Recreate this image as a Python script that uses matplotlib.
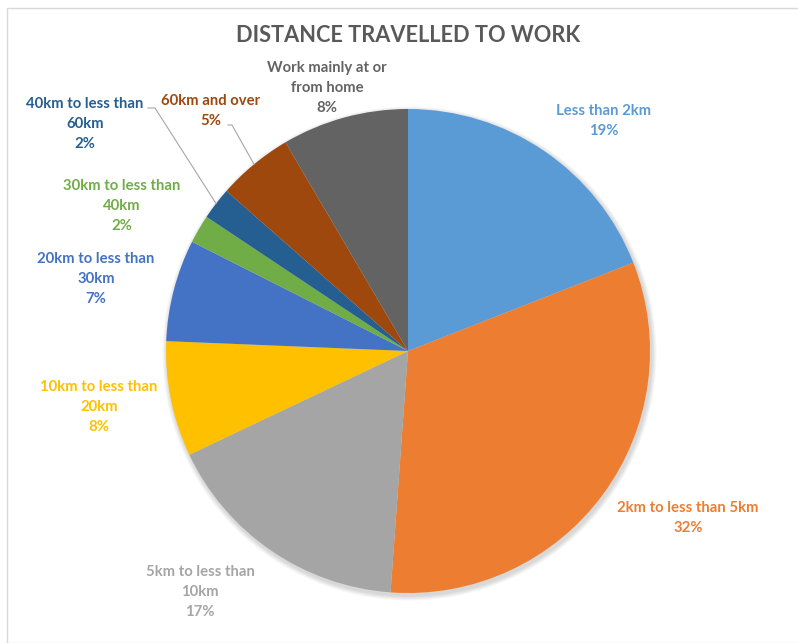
import numpy as np
import matplotlib.pyplot as plt
from matplotlib.patches import Rectangle, Circle

# data (clockwise from 12 o'clock)
categories = ["Less than 2km", "2km to less than 5km", "5km to less than\n10km",
              "10km to less than\n20km", "20km to less than\n30km", "30km to less than\n40km",
              "40km to less than\n60km", "60km and over", "Work mainly at or\nfrom home"]
shares = [19.05, 32.1, 16.8, 7.7, 6.8, 1.9, 2.15, 5.05, 8.45]
colors = ["#5B9BD5", "#ED7D31", "#A5A5A5", "#FFC000", "#4472C4",
          "#70AD47", "#255E91", "#9E480E", "#636363"]

W, H = 798, 643
fig = plt.figure(figsize=(W / 100, H / 100), dpi=100)
ax = fig.add_axes([0, 0, 1, 1])

# light frame round the chart area
fig.patches.append(Rectangle((7 / W, 0), 1, 1 - 8 / H, transform=fig.transFigure,
                             fill=False, edgecolor="#D9D9D9", linewidth=1))

cx, cy, r = 408, H - 351, 242

# soft shadow under the pie
for k in range(5):
    ax.add_patch(Circle((cx + 1.5, cy - 2.5), r + 1 + k, color="black",
                        alpha=0.03, linewidth=0, zorder=0))

wedges, _ = ax.pie(shares, colors=colors, startangle=90, counterclock=False,
                   center=(cx, cy), radius=r, frame=True,
                   wedgeprops=dict(linewidth=0, zorder=1))
ax.set_xlim(0, W)
ax.set_ylim(0, H)
ax.set_aspect("equal")
ax.axis("off")

fig.text(408 / W, 1 - 36 / H, "DISTANCE TRAVELLED TO WORK", ha="center", va="center",
         fontsize=15.7, fontweight="bold", color="#595959", family="Lato")

# label centres in pixels (x, y from top)
label_pos = [(604, 121), (688, 518), (200, 592), (99, 407), (96, 279),
             (122, 206), (85, 124), (211, 111), (327, 88)]
for lab, val, col, (px, py) in zip(categories, shares, colors, label_pos):
    ax.text(px, H - py, f"{lab}\n{val:.0f}%", ha="center", va="center",
            fontsize=10.7, fontweight="bold", color=col, family="Lato",
            linespacing=1.52)

# leader lines for the two small slices
leaders = {6: (148, 108, 155), 7: (228, 125, 232)}
for i, (x0, y0, x1) in leaders.items():
    w = wedges[i]
    mid = np.deg2rad((w.theta1 + w.theta2) / 2)
    ex, ey = cx + r * np.cos(mid), cy + r * np.sin(mid)
    ax.plot([x0, x1, ex], [H - y0, H - y0, ey], color="#A6A6A6", linewidth=0.8)

fig.savefig("out.png", dpi=100, facecolor="white")
